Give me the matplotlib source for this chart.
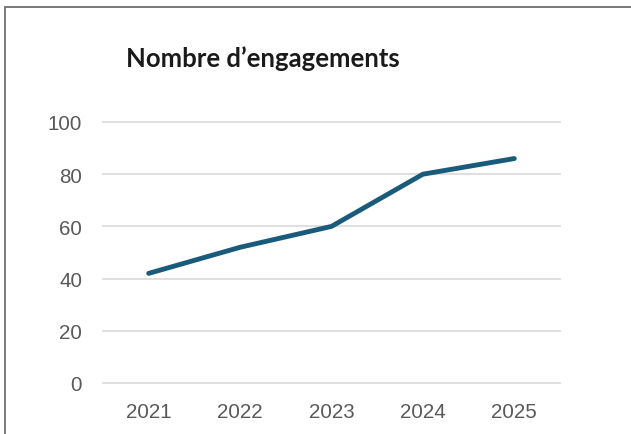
import matplotlib
matplotlib.use("Agg")
import matplotlib.pyplot as plt
from matplotlib.patches import Rectangle

years = ["2021", "2022", "2023", "2024", "2025"]
engagements = [42, 52, 60, 80, 86]
y_ticks = [0, 20, 40, 60, 80, 100]

W, H = 631, 435
fig = plt.figure(figsize=(W / 100, H / 100), dpi=100)
fig.patch.set_facecolor("white")

# frame around the whole picture (only left and top edges fall inside the image)
fig.patches.append(Rectangle((4.5 / W, -0.05), 1.0, 1 - 7.5 / H + 0.05,
                             transform=fig.transFigure, fill=False,
                             edgecolor="#6e6e6e", linewidth=1.3))

ax = fig.add_axes([103 / W, 1 - 384 / H, (560 - 103) / W, (384 - 123) / H])
x = range(len(years))
ax.plot(x, engagements, color="#1a5b7c", linewidth=3.5,
        solid_capstyle="round", solid_joinstyle="round", zorder=3)

ax.set_xlim(-0.5, len(years) - 0.5)
ax.set_ylim(0, 100)
ax.set_xticks(list(x))
ax.set_xticklabels(years)
ax.set_yticks(y_ticks)
for s in ax.spines.values():
    s.set_visible(False)
ax.grid(axis="y", color="#dcdcdc", linewidth=1.3)
for gl in ax.get_ygridlines():
    gl.set_clip_on(False)
ax.tick_params(length=0, labelsize=14.8, labelcolor="#595959")
ax.tick_params(axis="y", pad=15)
ax.tick_params(axis="x", pad=14)
for lab in ax.get_xticklabels() + ax.get_yticklabels():
    lab.set_family("Liberation Sans")

fig.text(263 / W, 1 - 59 / H, "Nombre d\u2019engagements", ha="center", va="center",
         fontsize=18.5, fontweight="bold", family="Lato", color="#1a1a1a")

fig.savefig("out.png", dpi=100)
